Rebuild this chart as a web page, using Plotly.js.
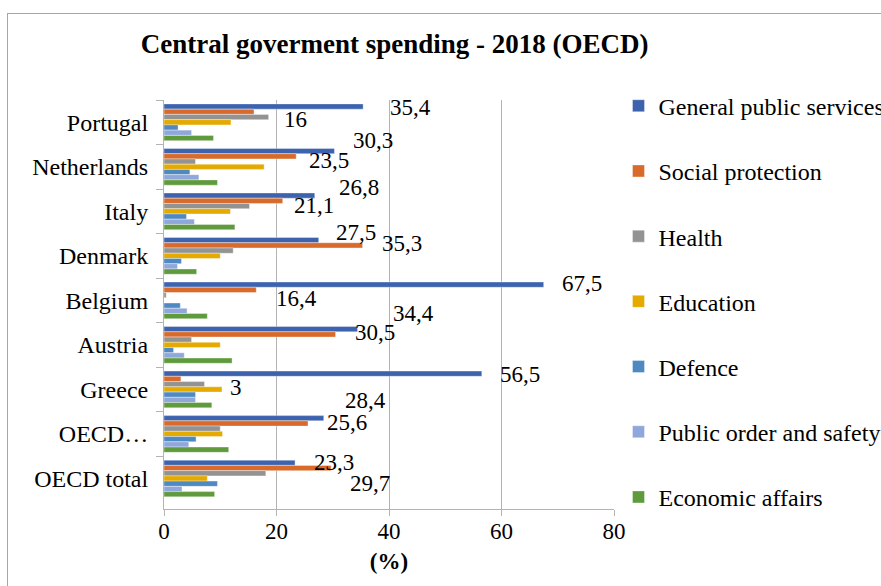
<!DOCTYPE html>
<html>
<head>
<meta charset="utf-8">
<script src="https://cdn.plot.ly/plotly-3.0.1.min.js"></script>
<style>
  html, body { margin: 0; padding: 0; background: #fff; overflow: hidden; }
  #wrap { position: relative; width: 881px; height: 586px; }
  #chart { width: 881px; height: 586px; }
  #frame { position: absolute; left: 7px; top: 13px; width: 900px; height: 600px;
           border: 1px solid #a6a6a6; pointer-events: none; }
</style>
</head>
<body>
<div id="wrap"><div id="chart"></div><div id="frame"></div></div>
<script>
// ---- data ----
const countries = ["Portugal", "Netherlands", "Italy", "Denmark", "Belgium", "Austria", "Greece", "OECD\u2026", "OECD total"];
const seriesNames = ["General public services", "Social protection", "Health", "Education", "Defence", "Public order and safety", "Economic affairs"];
const generalPublicServices = [35.4, 30.3, 26.8, 27.5, 67.5, 34.4, 56.5, 28.4, 23.3];
const socialProtection      = [16, 23.5, 21.1, 35.3, 16.4, 30.5, 3, 25.6, 29.7];
const health                = [18.6, 5.6, 15.2, 12.3, 0.4, 4.9, 7.2, 10.0, 18.1];
const education             = [11.9, 17.8, 11.8, 10.0, 0, 10.0, 10.3, 10.4, 7.7];
const defence               = [2.5, 4.6, 4.0, 3.1, 2.9, 1.7, 5.6, 5.7, 9.5];
const publicOrder           = [4.9, 6.2, 5.4, 2.4, 4.1, 3.6, 5.6, 4.4, 3.2];
const economicAffairs       = [8.8, 9.5, 12.6, 5.8, 7.7, 12.1, 8.5, 11.5, 9.0];
const xTicks = [0, 20, 40, 60, 80];

// ---- styling (not data) ----
const colors = ["#3d63ae", "#d86b2c", "#939393", "#e4aa00", "#4f89c2", "#8fa7db", "#5f9a3c"];
// label offsets in pixels [xshift, yshift from category centre]
const gpsLabelShift = [[25, 15], [17, 26.5], [22, 24], [15, 23], [16, 16.5], [33, 31], [16, 15], [19, 33.5], [17, 16]];
const spLabelShift  = [[28, 2.7], [11, 6], [9, 6], [17, 12.7], [18, 2], [17, 12], [47, 2], [17, 11.5], [17, -4.7]];

const allSeries = [generalPublicServices, socialProtection, health, education, defence, publicOrder, economicAffairs];
const FONT = "Liberation Serif";

const traces = allSeries.map((vals, i) => ({
  type: "bar",
  orientation: "h",
  name: seriesNames[i],
  legendgroup: "g" + i,
  y: countries,
  x: vals,
  marker: { color: colors[i], line: { color: "rgba(255,255,255,0.6)", width: 0.6 } },
  hoverinfo: "x+name"
}));

const annotations = [];
function addLabels(vals, shifts) {
  vals.forEach((v, k) => {
    annotations.push({
      xref: "x", yref: "y", x: v, y: countries[k],
      text: String(v).replace(".", ","),
      showarrow: false, xanchor: "left", yanchor: "middle",
      xshift: shifts[k][0], yshift: shifts[k][1],
      font: { family: FONT, size: 23, color: "#000" }
    });
  });
}
addLabels(generalPublicServices, gpsLabelShift);
addLabels(socialProtection, spLabelShift);

const layout = {
  width: 881, height: 586,
  paper_bgcolor: "#fff", plot_bgcolor: "#fff",
  margin: { l: 164, r: 267, t: 100, b: 77, autoexpand: false },
  font: { family: FONT, size: 24, color: "#000" },
  title: {
    text: "<b>Central goverment spending - 2018 (OECD)</b>",
    font: { family: FONT, size: 27, color: "#000" },
    x: 0.448, xanchor: "center", y: 0.925, yanchor: "middle"
  },
  barmode: "group", bargap: 0.175, bargroupgap: 0,
  xaxis: {
    range: [0, 80], tickvals: xTicks, ticktext: xTicks.map(String),
    showgrid: true, gridcolor: "#b4b4b4", gridwidth: 1,
    showline: true, linecolor: "#b4b4b4", linewidth: 1,
    ticks: "outside", ticklen: 6, tickcolor: "#b4b4b4",
    ticklabelstandoff: -5,
    zeroline: false, fixedrange: true,
    tickfont: { family: FONT, size: 23, color: "#000" },
    title: { text: "<b>(%)</b>", font: { family: FONT, size: 23, color: "#000" }, standoff: 10 }
  },
  yaxis: {
    type: "category", autorange: "reversed",
    showline: true, linecolor: "#b4b4b4", linewidth: 1,
    ticks: "outside", ticklen: 7, tickcolor: "#b4b4b4", tickson: "boundaries",
    showgrid: false, fixedrange: true,
    tickfont: { family: FONT, size: 24, color: "#000" },
    ticklabelstandoff: 10
  },
  legend: {
    x: 1.01, xanchor: "left", y: 1.04, yanchor: "top",
    traceorder: "grouped", tracegroupgap: 31, maxheight: 586,
    font: { family: FONT, size: 24, color: "#000" },
    bgcolor: "rgba(0,0,0,0)"
  },
  annotations: annotations,
  showlegend: true
};

Plotly.newPlot("chart", traces, layout, { displayModeBar: false, staticPlot: true });
</script>
</body>
</html>
